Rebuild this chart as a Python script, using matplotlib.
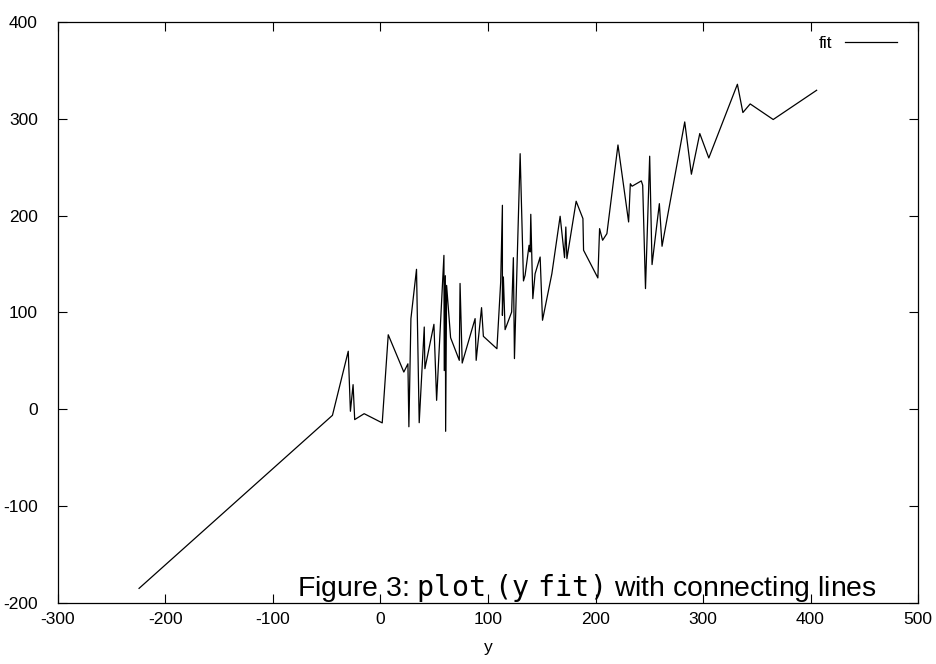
import matplotlib
matplotlib.use("Agg")
import matplotlib.pyplot as plt

plt.rcParams['font.family'] = ['Liberation Sans', 'DejaVu Sans']
plt.rcParams['mathtext.fontset'] = 'custom'
plt.rcParams['mathtext.tt'] = 'DejaVu Sans Mono'
plt.rcParams['mathtext.rm'] = 'Liberation Sans'
plt.rcParams['axes.unicode_minus'] = False

# data: observed y vs. fitted values
y_vals = [-224.6, -44.7, -30, -28, -25.5, -24, -15.2, 1.6, 7.2, 21.7, 25.5, 26.4,
          28.3, 33.5, 36, 40.7, 41.3, 49.7, 52.2, 59, 59.3, 60.3, 60.6, 61.5,
          65.2, 73.3, 74, 76, 88, 89, 94, 95.7, 108.3, 111.8, 113.4, 113.4,
          114.3, 115.9, 122, 123.6, 124.6, 129.9, 133, 134.5, 138.2, 139.2,
          139.8, 141.7, 143.8, 148.5, 150.7, 159.4, 167.1, 171.2, 172.4, 173.4,
          182, 188.3, 188.9, 202.2, 203.8, 206.6, 210.6, 220.9, 230.8, 232.4,
          234, 242.6, 243.9, 246.5, 250.4, 252.6, 259.4, 261.9, 283, 289.2,
          297, 305.4, 332, 337.1, 343.9, 365.3, 405.7]
fit_vals = [-184.9, -6.2, 60, -2, 25.5, -10.6, -4.5, -14, 77, 38.5, 47, -18,
            93.7, 144.6, -13.8, 85, 42, 87.8, 9.3, 159, 40, 138, -22.7, 128,
            74, 50.6, 130, 47.8, 93.7, 50.6, 105, 75.4, 62.6, 131.5, 210.7, 97,
            136.7, 82.3, 100.5, 156.6, 52.4, 264, 132.6, 138.4, 169.4, 162.5,
            201.4, 114.3, 140, 157.3, 92, 140, 199.4, 156.7, 188.3, 155.6,
            214.9, 197, 164.3, 135.7, 186.6, 174.6, 181.4, 273, 193.5, 233,
            230.4, 235.9, 231.4, 124.7, 261.4, 149.5, 212.4, 168.4, 296.8, 242.8,
            284.8, 259.6, 335.7, 306.5, 315.4, 299.3, 329.5]

x_ticks = [-300, -200, -100, 0, 100, 200, 300, 400, 500]
y_ticks = [-200, -100, 0, 100, 200, 300, 400]
series_label = "fit"
x_label = "y"
caption = r"Figure 3: $\mathtt{plot\ (y\ fit)}$ with connecting lines"

fig = plt.figure(figsize=(9.37, 6.64), dpi=100)
ax = fig.add_axes([58/937, 1-603/664, 860/937, 581/664])

ax.plot(y_vals, fit_vals, color='black', linewidth=0.9, label=series_label)

ax.set_xlim(-300, 500)
ax.set_ylim(-200, 400)
ax.set_xticks(x_ticks)
ax.set_yticks(y_ticks)
ax.tick_params(direction='in', length=6.5, width=0.8, top=True, right=True,
               labelsize=12.5)
ax.tick_params(axis='x', pad=6.5)
ax.tick_params(axis='y', pad=14.4)
for s in ax.spines.values():
    s.set_linewidth(0.9)

ax.set_xlabel(x_label, fontsize=12.5, labelpad=9)

leg = ax.legend(loc='upper right', bbox_to_anchor=(0.9838, 0.988),
                frameon=False, markerfirst=False, handlelength=3.0,
                handletextpad=0.75, borderaxespad=0.0, fontsize=12.5)

ax.text(0.952, 0.012, caption, transform=ax.transAxes, ha='right',
        va='baseline', fontsize=20.4)

fig.savefig("out.png", dpi=100)
